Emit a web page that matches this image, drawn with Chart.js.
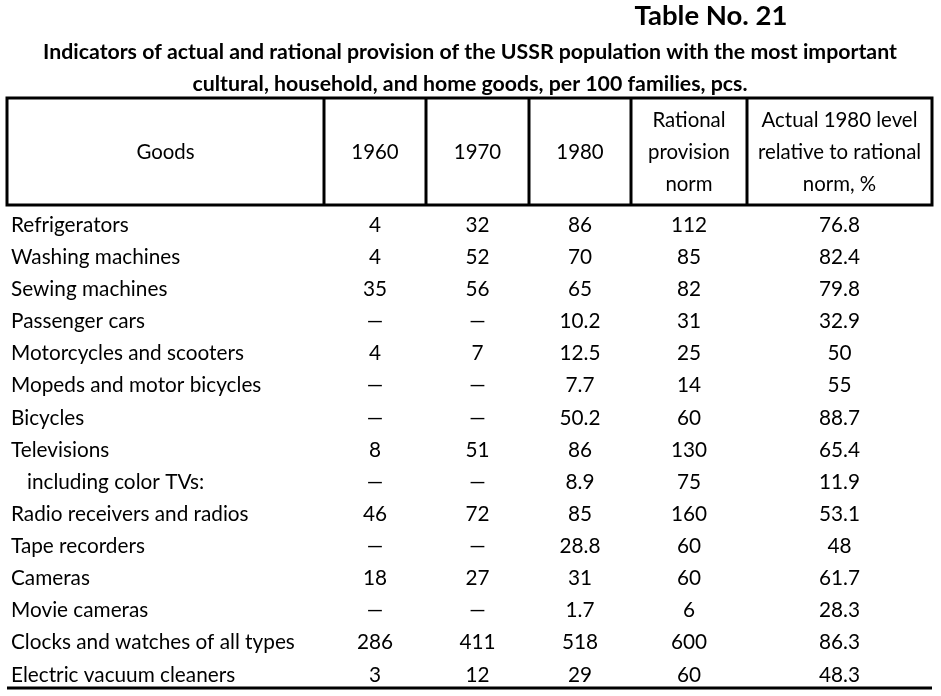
<!DOCTYPE html>
<html>
<head>
<meta charset="utf-8">
<script src="https://cdn.jsdelivr.net/npm/chart.js@4"></script>
<style>
html,body{margin:0;padding:0;background:#fff;}
#c{display:block;}
</style>
</head>
<body>
<canvas id="c" width="941" height="696"></canvas>
<script>
// ---- data ----
const tableNo = "Table No. 21";
const titleLines = [
  "Indicators of actual and rational provision of the USSR population with the most important",
  "cultural, household, and home goods, per 100 families, pcs."
];
const headers = [
  ["Goods"],
  ["1960"],
  ["1970"],
  ["1980"],
  ["Rational", "provision", "norm"],
  ["Actual 1980 level", "relative to rational", "norm, %"]
];
const goods = [
  "Refrigerators",
  "Washing machines",
  "Sewing machines",
  "Passenger cars",
  "Motorcycles and scooters",
  "Mopeds and motor bicycles",
  "Bicycles",
  "Televisions",
  "   including color TVs:",
  "Radio receivers and radios",
  "Tape recorders",
  "Cameras",
  "Movie cameras",
  "Clocks and watches of all types",
  "Electric vacuum cleaners"
];
const v1960 = [4, 4, 35, null, 4, null, null, 8, null, 46, null, 18, null, 286, 3];
const v1970 = [32, 52, 56, null, 7, null, null, 51, null, 72, null, 27, null, 411, 12];
const v1980 = [86, 70, 65, 10.2, 12.5, 7.7, 50.2, 86, 8.9, 85, 28.8, 31, 1.7, 518, 29];
const rationalNorm = [112, 85, 82, 31, 25, 14, 60, 130, 75, 160, 60, 60, 6, 600, 60];
const actualPct = [76.8, 82.4, 79.8, 32.9, 50, 55, 88.7, 65.4, 11.9, 53.1, 48, 61.7, 28.3, 86.3, 48.3];

// ---- layout (not data) ----
const colEdges = [7, 324, 426, 529, 631, 747, 932];
const FONT = "Lato, 'Open Sans', sans-serif";
const dash = "\u2014";

const valueCols = [v1960, v1970, v1980, rationalNorm, actualPct];
const center = i => (colEdges[i] + colEdges[i + 1]) / 2;

const datasets = valueCols.map((arr, ci) => ({
  label: headers[ci + 1].join(" "),
  data: arr.map((v, ri) => ({ x: center(ci + 1), y: goods[ri], v: v })),
  pointRadius: 0,
  pointHoverRadius: 0,
  showLine: false
}));
datasets.unshift({
  label: "Goods",
  data: goods.map((g, ri) => ({ x: colEdges[0] + 4, y: g, v: g })),
  pointRadius: 0, pointHoverRadius: 0, showLine: false
});

// pick a font size so that a sample string has a given width
function fitFont(ctx, weight, sample, targetW) {
  ctx.font = weight + " 20px " + FONT;
  const w = ctx.measureText(sample).width;
  return weight + " " + (20 * targetW / w).toFixed(2) + "px " + FONT;
}

const tablePlugin = {
  id: 'tablePlugin',
  afterDraw(chart) {
    const ctx = chart.ctx;
    const xs = chart.scales.x;
    const ca = chart.chartArea;
    ctx.save();
    ctx.fillStyle = '#000';
    ctx.strokeStyle = '#000';
    // Titles
    ctx.textAlign = 'center';
    ctx.textBaseline = 'middle';
    ctx.font = fitFont(ctx, "bold", tableNo, 153);
    ctx.fillText(tableNo, 711, 16);
    ctx.font = fitFont(ctx, "bold", titleLines[0], 854);
    ctx.fillText(titleLines[0], 470, 52);
    ctx.fillText(titleLines[1], 470, 84);

    // Header box
    const hTop = 98, hBot = 205;
    ctx.lineWidth = 3;
    const L = xs.getPixelForValue(colEdges[0]);
    const R = xs.getPixelForValue(colEdges[colEdges.length - 1]);
    ctx.strokeRect(L, hTop, R - L, hBot - hTop);
    for (let i = 1; i < colEdges.length - 1; i++) {
      const x = xs.getPixelForValue(colEdges[i]);
      ctx.beginPath(); ctx.moveTo(x, hTop); ctx.lineTo(x, hBot); ctx.stroke();
    }
    // bottom rule
    ctx.beginPath(); ctx.moveTo(L, ca.bottom - 1); ctx.lineTo(R, ca.bottom - 1); ctx.stroke();

    const bodyFont = fitFont(ctx, "", "Clocks and watches of all types", 284);

    // Header text
    ctx.font = fitFont(ctx, "", "Actual 1980 level", 156);
    headers.forEach((lines, i) => {
      const cx = xs.getPixelForValue(center(i));
      const mid = (hTop + hBot) / 2 + 1;
      const lh = 32;
      lines.forEach((t, k) => {
        ctx.fillText(t, cx, mid + (k - (lines.length - 1) / 2) * lh);
      });
    });

    // Body cells
    ctx.font = bodyFont;
    chart.data.datasets.forEach((ds, di) => {
      const meta = chart.getDatasetMeta(di);
      meta.data.forEach((pt, ri) => {
        const v = ds.data[ri].v;
        ctx.textAlign = di === 0 ? 'left' : 'center';
        const txt = (v === null || v === undefined) ? dash : String(v);
        ctx.fillText(txt, pt.x, pt.y + 2);
      });
    });
    ctx.restore();
  }
};

new Chart(document.getElementById('c'), {
  type: 'scatter',
  data: { datasets },
  options: {
    responsive: false,
    animation: false,
    devicePixelRatio: 1,
    layout: { padding: { top: 207, bottom: 7, left: 7, right: 9 } },
    plugins: { legend: { display: false }, tooltip: { enabled: false }, title: { display: false } },
    scales: {
      x: { type: 'linear', min: colEdges[0], max: colEdges[colEdges.length - 1], display: false },
      y: { type: 'category', labels: goods, offset: true, display: false }
    }
  },
  plugins: [tablePlugin]
});
</script>
</body>
</html>
